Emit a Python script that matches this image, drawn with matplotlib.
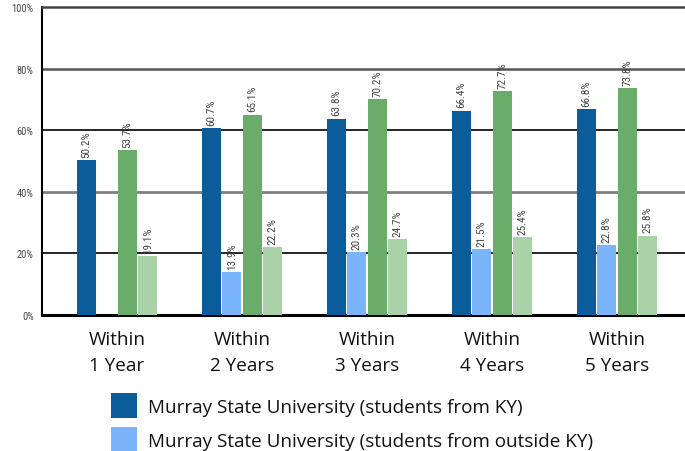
import numpy as np
import matplotlib.pyplot as plt
from matplotlib import font_manager
from matplotlib.patches import Patch

groups = ["Within\n1 Year", "Within\n2 Years", "Within\n3 Years", "Within\n4 Years", "Within\n5 Years"]

msu_ky = [50.2, 60.7, 63.8, 66.4, 66.8]
msu_out = [np.nan, 13.9, 20.3, 21.5, 22.8]
green_dark = [53.7, 65.1, 70.2, 72.7, 73.8]
green_light = [19.1, 22.2, 24.7, 25.4, 25.8]

series = [msu_ky, msu_out, green_dark, green_light]
colors = ["#0b5c9a", "#7ab4fb", "#6aad6a", "#a9d2a8"]
legend_labels = ["Murray State University (students from KY)",
                 "Murray State University (students from outside KY)"]

# pick a narrow face if one is around (for the small numbers)
names = sorted({f.name for f in font_manager.fontManager.ttflist})
narrow_name = None
for cand in ["Liberation Sans Narrow", "Roboto Condensed", "Open Sans Condensed", "DejaVu Sans Condensed"]:
    if cand in names:
        narrow_name = cand
        break
if narrow_name is None:
    narrow_name = "DejaVu Sans"
stretch = "condensed"
narrow = [narrow_name, "DejaVu Sans"]
body = ["Open Sans", "DejaVu Sans"]

fig = plt.figure(figsize=(6.85, 4.52), dpi=100)
ax = fig.add_axes([0.0613, 0.301, 0.9387, 0.681])

x = np.arange(len(groups))
step = 0.164
width = 0.152
for k, (vals, c) in enumerate(zip(series, colors)):
    pos = x + (k - 1.5) * step
    ax.bar(pos, vals, width=width, color=c, zorder=3)
    for p, v in zip(pos, vals):
        if np.isnan(v):
            continue
        ax.text(p, v + 1.0, f"{v:.1f}%", rotation=90, ha="center", va="bottom",
                fontsize=8, color="#444444", family=narrow, stretch=stretch, zorder=4)

ax.set_xlim(-0.6, 4.544)
ax.set_ylim(0, 100)
ax.set_yticks([0, 20, 40, 60, 80, 100])
ax.set_yticklabels([f"{t}%" for t in range(0, 101, 20)], family=narrow, stretch=stretch,
                   fontsize=7.5, color="#444444")
ax.tick_params(axis="y", length=0, pad=6)
ax.set_xticks(x)
ax.set_xticklabels(groups, fontsize=13.6, family=body, linespacing=1.55, color="#111111")
ax.tick_params(axis="x", length=0, pad=11)

for yv, col, lw in [(20, "black", 1.2), (40, "#808080", 2.0), (60, "black", 1.2), (80, "#555555", 1.8)]:
    ax.axhline(yv, color=col, lw=lw, zorder=1)

ax.spines["right"].set_visible(False)
ax.spines["top"].set_color("#444444")
ax.spines["top"].set_linewidth(1.8)
ax.spines["left"].set_linewidth(1.5)
ax.spines["bottom"].set_linewidth(2.2)

handles = [Patch(facecolor=colors[0]), Patch(facecolor=colors[1])]
leg = fig.legend(handles, legend_labels, loc="upper left", bbox_to_anchor=(0.1616, 0.1283),
                 frameon=False, prop={"family": body, "size": 13.6},
                 handlelength=1.38, handleheight=1.66, handletextpad=0.58, labelspacing=0.5,
                 borderaxespad=0, borderpad=0)
for t in leg.get_texts():
    t.set_color("#111111")

fig.savefig("out.png", dpi=100)
